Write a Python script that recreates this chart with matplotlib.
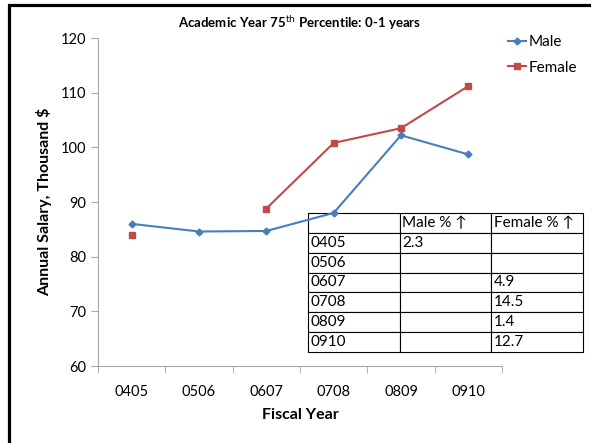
import matplotlib.pyplot as plt
import numpy as np
from matplotlib.patches import Rectangle

years = ["0405", "0506", "0607", "0708", "0809", "0910"]
male = [86.0, 84.6, 84.7, 88.0, 102.2, 98.7]
female = [84.0, np.nan, 88.8, 100.8, 103.5, 111.2]
male_pct = ["2.3", "", "", "", "", ""]
female_pct = ["", "", "4.9", "14.5", "1.4", "12.7"]
col_labels = ["", "Male % \u2191", "Female % \u2191"]

plt.rcParams["font.family"] = ["Lato", "DejaVu Sans"]

blue = "#4A7EBB"
red = "#BE4B48"
grey = "#A6A6A6"

fig = plt.figure(figsize=(5.91, 4.43), dpi=100)
ax = fig.add_axes([98 / 591, 1 - 366 / 443, 404 / 591, 328 / 443])

x = np.arange(len(years))
ax.plot(x, male, color=blue, marker="D", markersize=3.5, linewidth=1.5, label="Male")
ax.plot(x, female, color=red, marker="s", markersize=5, linewidth=1.5, label="Female")

ax.set_xlim(-0.5, len(years) - 0.5)
ax.set_ylim(60, 120)
ax.set_yticks(range(60, 121, 10))
ax.set_xticks(x)
ax.set_xticklabels(years)
ax.set_xticks(np.arange(-0.5, len(years)), minor=True)
ax.tick_params(axis="x", which="major", length=0, pad=14, labelsize=10.5)
ax.tick_params(axis="x", which="minor", length=5, color=grey, direction="out")
ax.tick_params(axis="y", length=5, color=grey, direction="out", labelsize=10.5)
for side in ["top", "right"]:
    ax.spines[side].set_visible(False)
for side in ["left", "bottom"]:
    ax.spines[side].set_color(grey)

ax.set_title("Academic Year 75$^{\\mathrm{th}}$ Percentile: 0-1 years",
             fontsize=9.5, fontweight="bold", pad=7)
ax.set_xlabel("Fiscal Year", fontsize=11.5, fontweight="bold", labelpad=6)
ax.set_ylabel("Annual Salary, Thousand $", fontsize=11.5, fontweight="bold", labelpad=6)

ax.legend(loc="upper left", bbox_to_anchor=(0.98, 1.05), frameon=False,
          fontsize=11, handlelength=1.2, handletextpad=0.15, labelspacing=0.75)

cells = [[y, m, f] for y, m, f in zip(years, male_pct, female_pct)]
tbl = ax.table(cellText=[col_labels] + cells, cellLoc="left",
               bbox=[(308 - 98) / 404, 14 / 328, 275 / 404, 139 / 328])
tbl.auto_set_font_size(False)
tbl.set_fontsize(11)
tbl.set_clip_on(False)
for cell in tbl.get_celld().values():
    cell.set_edgecolor("black")
    cell.set_linewidth(0.8)
    cell.set_facecolor("white")
    cell.PAD = 0.03

fig.patches.append(Rectangle((8.5 / 591, -0.1), 1.2, 1.1 - 5.5 / 443,
                             transform=fig.transFigure, fill=False,
                             edgecolor="black", linewidth=2.3))

fig.savefig("out.png", dpi=100)
